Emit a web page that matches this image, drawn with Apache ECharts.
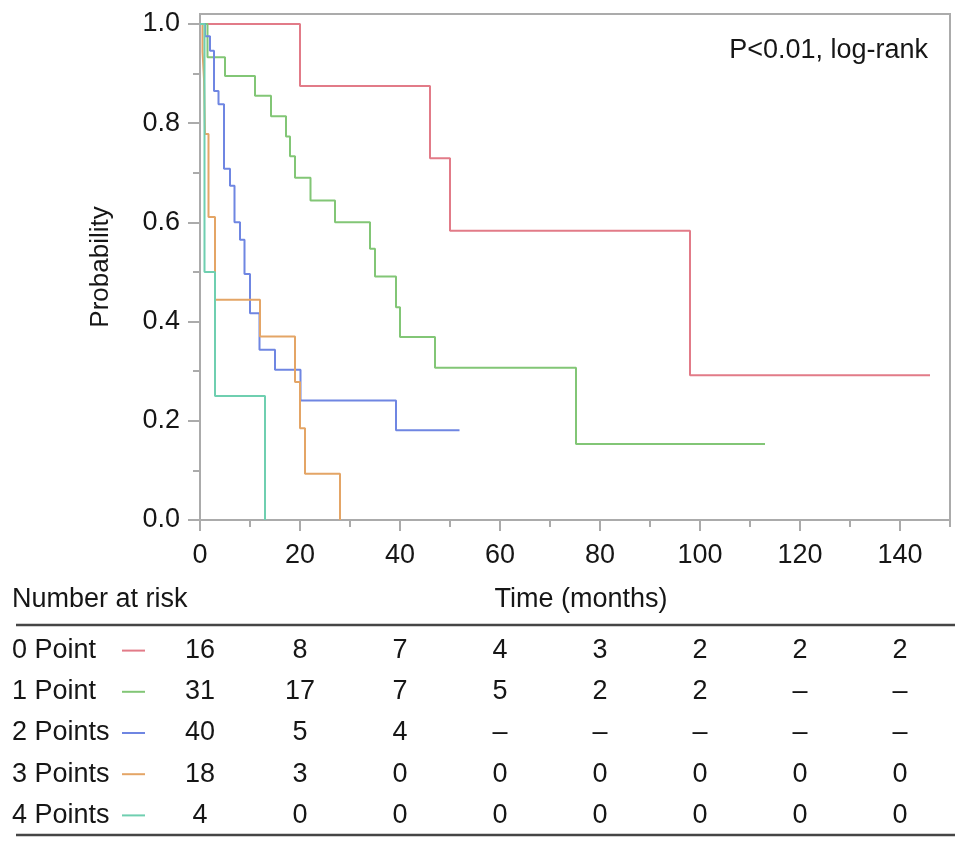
<!DOCTYPE html>
<html>
<head>
<meta charset="utf-8">
<script src="https://cdn.jsdelivr.net/npm/echarts@6/dist/echarts.min.js"></script>
<style>
html,body{margin:0;padding:0;background:#fff;}
#c{width:969px;height:849px;}
</style>
</head>
<body>
<div id="c"></div>
<script>
// ---- data ----
var groupNames = ['0 Point', '1 Point', '2 Points', '3 Points', '4 Points'];
var groupColors = ['#e27b88', '#82c676', '#6f86e2', '#e4a566', '#6fcfb0'];

var time0 = [0, 20, 46, 50, 98, 146];
var surv0 = [1, 0.875, 0.729, 0.583, 0.292, 0.292];

var time1 = [0, 1.5, 5, 11, 14.2, 17.2, 18, 19, 22.1, 27, 34, 35, 39.2, 40, 47, 75.2, 113];
var surv1 = [1, 0.933, 0.895, 0.855, 0.814, 0.773, 0.733, 0.69, 0.644, 0.600, 0.547, 0.491, 0.429, 0.369, 0.307, 0.153, 0.153];

var time2 = [0, 1, 2, 2.8, 3.7, 4.8, 6, 6.9, 8, 8.9, 10, 11.9, 15, 20.1, 39.2, 51.9];
var surv2 = [1, 0.975, 0.946, 0.865, 0.838, 0.708, 0.674, 0.600, 0.565, 0.496, 0.417, 0.343, 0.303, 0.241, 0.181, 0.181];

var time3 = [0, 0.5, 0.8, 1, 1.7, 3, 12, 19, 20, 21, 28];
var surv3 = [1, 0.944, 0.889, 0.778, 0.611, 0.444, 0.370, 0.278, 0.185, 0.093, 0];

var time4 = [0, 0.9, 3, 13];
var surv4 = [1, 0.5, 0.25, 0];

var xTicks = [0, 20, 40, 60, 80, 100, 120, 140];
var xMinorTicks = [10, 30, 50, 70, 90, 110, 130, 150];
var yTicks = [0, 0.2, 0.4, 0.6, 0.8, 1.0];
var yMinorTicks = [0.1, 0.3, 0.5, 0.7, 0.9];

var riskTimes = [0, 20, 40, 60, 80, 100, 120, 140];
var risk0 = [16, 8, 7, 4, 3, 2, 2, 2];
var risk1 = [31, 17, 7, 5, 2, 2, '–', '–'];
var risk2 = [40, 5, 4, '–', '–', '–', '–', '–'];
var risk3 = [18, 3, 0, 0, 0, 0, 0, 0];
var risk4 = [4, 0, 0, 0, 0, 0, 0, 0];

// ---- build ----
var times = [time0, time1, time2, time3, time4];
var survs = [surv0, surv1, surv2, surv3, surv4];
var risks = [risk0, risk1, risk2, risk3, risk4];

var FONT = 'Liberation Sans, Arial, Helvetica, sans-serif';
var TXT = '#161616';
var AX = '#ababab';

var curveSeries = times.map(function (t, i) {
  return {
    type: 'line',
    name: groupNames[i],
    xAxisIndex: 0, yAxisIndex: 0,
    step: 'end',
    symbol: 'none',
    lineStyle: { color: groupColors[i], width: 2 },
    itemStyle: { color: groupColors[i] },
    data: t.map(function (x, k) { return [x, survs[i][k]]; }),
    z: 3 + i
  };
});

var riskData = [];
risks.forEach(function (row, r) {
  row.forEach(function (v, c) {
    riskData.push([riskTimes[c], groupNames[r], v]);
  });
});

var rich = { n: { width: 110, fontSize: 27, fontFamily: FONT, color: TXT } };
groupColors.forEach(function (col, i) {
  rich['l' + i] = { width: 23, height: 2, backgroundColor: col, verticalAlign: 'middle' };
});

var chart = echarts.init(document.getElementById('c'));
chart.setOption({
  backgroundColor: '#fff',
  animation: false,
  textStyle: { fontFamily: FONT },
  title: [
    { text: 'Number at risk', left: 12, top: 586, padding: 0,
      textStyle: { fontSize: 27, fontWeight: 'normal', color: TXT, fontFamily: FONT } },
    { text: 'P<0.01, log-rank', right: 36, top: 32,
      textStyle: { fontSize: 27, fontWeight: 'normal', color: TXT, fontFamily: FONT } }
  ],
  grid: [
    { left: 200, right: 19, top: 14, bottom: 329, show: true,
      borderColor: AX, borderWidth: 2, backgroundColor: 'transparent' },
    { left: 200, right: 19, top: 630, bottom: 13 }
  ],
  xAxis: [
    { type: 'value', gridIndex: 0, min: 0, max: 150,
      axisLine: { show: true, lineStyle: { color: AX, width: 2 } },
      axisTick: { show: true, customValues: xTicks, length: 11, lineStyle: { color: AX, width: 2 } },
      axisLabel: { customValues: xTicks, fontSize: 27, color: TXT, margin: 22, fontFamily: FONT },
      splitLine: { show: false },
      name: 'Time (months)', nameLocation: 'middle', nameGap: 66,
      nameTextStyle: { fontSize: 27, color: TXT, fontFamily: FONT, padding: [0, 0, 0, 12] }
    },
    { type: 'value', gridIndex: 0, min: 0, max: 150, position: 'bottom',
      axisLine: { show: false },
      axisTick: { show: true, customValues: xMinorTicks, length: 7, lineStyle: { color: AX, width: 2 } },
      axisLabel: { show: false }, splitLine: { show: false }
    },
    { type: 'value', gridIndex: 1, min: 0, max: 150, show: false }
  ],
  yAxis: [
    { type: 'value', gridIndex: 0, min: 0, max: 1.02,
      axisLine: { show: true, lineStyle: { color: AX, width: 2 } },
      axisTick: { show: true, customValues: yTicks, length: 12, lineStyle: { color: AX, width: 2 } },
      axisLabel: { customValues: yTicks, fontSize: 27, color: TXT, margin: 20, fontFamily: FONT,
        formatter: function (v) { return v.toFixed(1); } },
      splitLine: { show: false },
      name: 'Probability', nameLocation: 'middle', nameGap: 86, nameRotate: 90,
      nameTextStyle: { fontSize: 26, color: TXT, fontFamily: FONT }
    },
    { type: 'value', gridIndex: 0, min: 0, max: 1.02, position: 'left',
      axisLine: { show: false },
      axisTick: { show: true, customValues: yMinorTicks, length: 7, lineStyle: { color: AX, width: 2 } },
      axisLabel: { show: false }, splitLine: { show: false }
    },
    { type: 'category', gridIndex: 1, data: groupNames, inverse: true,
      axisLine: { show: false }, axisTick: { show: false }, splitLine: { show: false },
      axisLabel: { align: 'left', margin: 188, fontSize: 27, color: TXT, fontFamily: FONT,
        formatter: function (v, i) { return '{n|' + v + '}{l' + i + '|}'; },
        rich: rich }
    }
  ],
  graphic: [
    { type: 'line', shape: { x1: 16, y1: 625, x2: 955, y2: 625 },
      style: { stroke: '#454545', lineWidth: 2.5 } },
    { type: 'line', shape: { x1: 16, y1: 835, x2: 955, y2: 835 },
      style: { stroke: '#454545', lineWidth: 2.5 } }
  ],
  series: curveSeries.concat([
    { type: 'scatter', xAxisIndex: 2, yAxisIndex: 2, symbolSize: 1,
      itemStyle: { color: '#ffffff', opacity: 1 },
      data: riskData,
      label: { show: true, position: 'inside', fontSize: 27, color: TXT, opacity: 1,
        fontFamily: FONT, textBorderWidth: 0,
        formatter: function (p) { return String(p.value[2]); } },
      emphasis: { disabled: true }
    }
  ])
});
</script>
</body>
</html>
